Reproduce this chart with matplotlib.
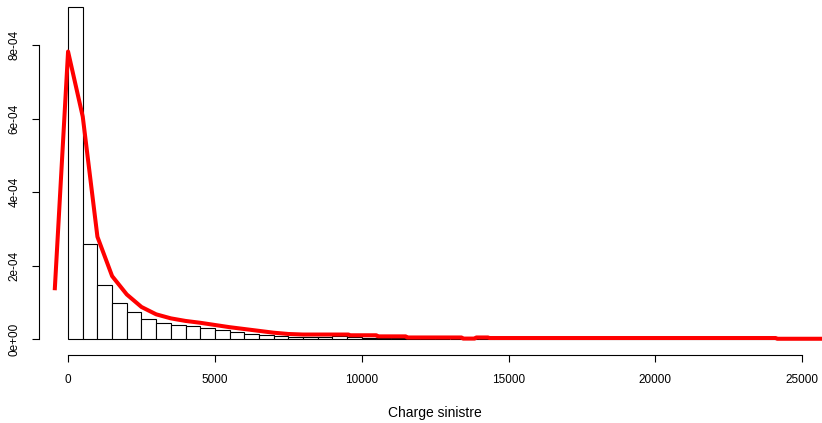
import matplotlib
matplotlib.use("Agg")
import matplotlib.pyplot as plt
import numpy as np

# ==========================================
# DATA
# ==========================================
# histogram bins: left edges, width 500
bin_left = [0, 500, 1000, 1500, 2000, 2500, 3000, 3500, 4000, 4500,
            5000, 5500, 6000, 6500, 7000, 7500, 8000, 8500, 9000, 9500,
            10000, 10500, 11000, 11500, 12000, 12500, 13000, 13500, 14000, 14500,
            15000, 15500, 16000, 16500, 17000, 17500, 18000, 18500, 19000, 19500,
            20000, 20500, 21000, 21500, 22000, 22500, 23000, 23500, 24000, 24500,
            25000, 25500]
bin_width = 500
# densities in units of 1e-4
hist_dens = [9.03, 2.60, 1.49, 0.99, 0.73, 0.54, 0.45, 0.40, 0.35, 0.31,
             0.245, 0.19, 0.155, 0.12, 0.09, 0.073, 0.063, 0.054, 0.082, 0.054,
             0.046, 0.036, 0.036, 0.027, 0.027, 0.018, 0.018, 0.009, 0.036, 0.009,
             0.018, 0.009, 0.009, 0.0, 0.009, 0.009, 0.0, 0.009, 0.0, 0.009,
             0.0, 0.009, 0.0, 0.0, 0.009, 0.0, 0.0, 0.009, 0.0, 0.0,
             0.0, 0.0]

# red density curve (x, density in 1e-4)
curve_x = [-450, 0, 500, 1000, 1500, 2000, 2500, 3000, 3500, 4000,
           4500, 5000, 5500, 6000, 6500, 7000, 7500, 8000, 9550, 9600,
           10500, 10550, 11500, 11550, 13400, 13450, 13850, 13900, 14300, 14350,
           24100, 24150, 26000]
curve_y = [1.39, 7.83, 6.06, 2.79, 1.72, 1.22, 0.88, 0.68, 0.57, 0.50,
           0.45, 0.39, 0.33, 0.28, 0.23, 0.18, 0.145, 0.13, 0.13, 0.11,
           0.11, 0.08, 0.08, 0.05, 0.05, 0.02, 0.02, 0.05, 0.05, 0.035,
           0.035, 0.015, 0.015]

x_ticks = [0, 5000, 10000, 15000, 20000, 25000]
x_ticklabels = ["0", "5000", "10000", "15000", "20000", "25000"]
y_ticks = [0, 2e-4, 4e-4, 6e-4, 8e-4]
y_ticklabels = ["0e+00", "2e-04", "4e-04", "6e-04", "8e-04"]
x_label = "Charge sinistre"

# ==========================================
# PLOT
# ==========================================
plt.rcParams['font.family'] = ['Liberation Sans', 'DejaVu Sans']

W, H = 822, 423
fig = plt.figure(figsize=(W / 100, H / 100), dpi=100)

left_px, right_px, bottom_px, top_px = 38.7, 822, 355, 0
ax = fig.add_axes([left_px / W, (H - bottom_px) / H,
                   (right_px - left_px) / W, (bottom_px - top_px) / H])

dens = np.array(hist_dens) * 1e-4
ax.bar(bin_left, dens, width=bin_width, align='edge',
       facecolor='white', edgecolor='black', linewidth=0.8, zorder=2)

ax.plot(curve_x, np.array(curve_y) * 1e-4, color='#ff0000',
        linewidth=2.9, solid_joinstyle='round', zorder=3)

ax.set_xlim(-1000, 25675)
ax.set_ylim(-0.427e-4, 9.233e-4)

for side in ['top', 'right']:
    ax.spines[side].set_visible(False)
ax.spines['left'].set_bounds(0, 8e-4)
ax.spines['bottom'].set_bounds(0, 25000)
ax.spines['left'].set_linewidth(0.8)
ax.spines['bottom'].set_linewidth(0.8)

ax.set_xticks(x_ticks)
ax.set_xticklabels(x_ticklabels, fontsize=8.5)
ax.set_yticks(y_ticks)
ax.set_yticklabels(y_ticklabels, fontsize=8.5, rotation=90, va='center')
ax.tick_params(axis='both', direction='out', length=5, width=0.8)
ax.tick_params(axis='x', pad=9)
ax.tick_params(axis='y', pad=8)

fig.text(0.5 * (389 + 481) / W, (H - 413) / H, x_label,
         ha='center', va='center', fontsize=10)

fig.savefig("out.png", dpi=100)
plt.close(fig)
